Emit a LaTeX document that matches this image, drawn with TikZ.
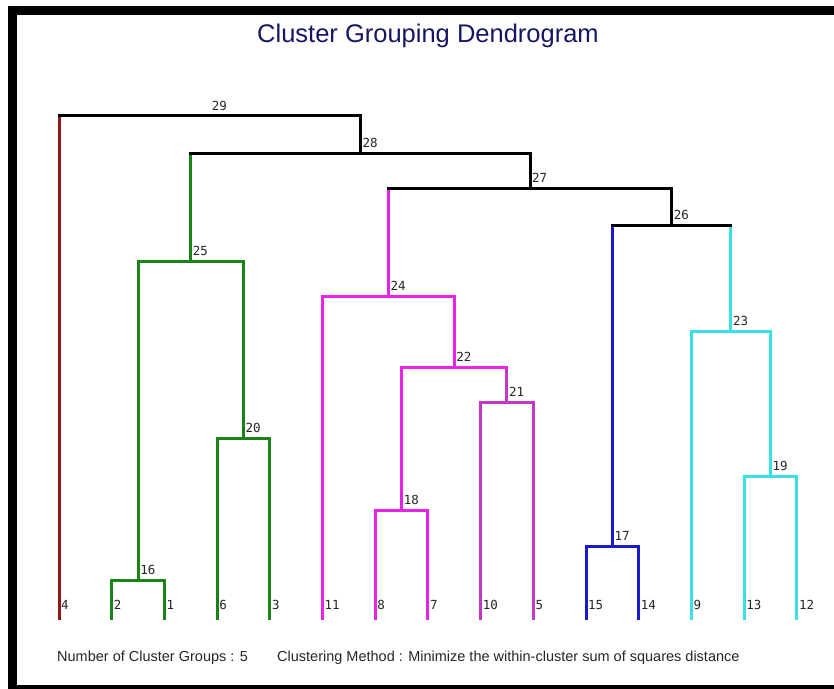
\documentclass[tikz,border=0pt]{standalone}
\usepackage{fontspec}
\setmainfont{Liberation Sans}
\newfontfamily\numfont{DejaVu Sans Mono}
\definecolor{darkred}{RGB}{140,25,25}
\definecolor{grn}{RGB}{25,130,25}
\definecolor{mag}{RGB}{230,35,230}
\definecolor{pur}{RGB}{195,55,205}
\definecolor{blu}{RGB}{25,25,205}
\definecolor{cyn}{RGB}{55,225,230}
\definecolor{navy}{RGB}{22,22,100}
\begin{document}
\begin{tikzpicture}[x=1bp, y=-1bp, every node/.style={inner sep=0},
    link/.style={line width=3bp, line cap=rect},
    numlbl/.style={font=\numfont\fontsize{12.5bp}{14bp}\selectfont, text=black!85},
    foot/.style={font=\fontsize{14.5bp}{17bp}\selectfont, text=black!85}]
      \useasboundingbox (0,0) rectangle (834,689);
      \fill[white] (0,0) rectangle (834,689);

      % Frame
      \fill[black] (8,6) rectangle (834,15);
      \fill[black] (8,6) rectangle (17,689);
      \fill[black] (8,685) rectangle (834,689);

      % Title
      \node[font=\fontsize{25.5bp}{30bp}\selectfont, text=navy, anchor=base] (ttl) at (428,43) {Cluster Grouping Dendrogram};

      % Leaves & labels
      \foreach \lf [count=\i] in {4,2,1,6,3,11,8,7,10,5,15,14,9,13,12} {
        \coordinate (l\lf) at ({59+52.7*(\i-1)}, 618);
        \node[numlbl, anchor=west] (t\lf) at ({61+52.7*(\i-1)}, 605) {\lf};
      }

      % Merges: number / left / right / height / bar, left and right colours
      \foreach \n/\a/\b/\y/\c/\ca/\cb in {
        16/l2/l1/580/grn/grn/grn,
        17/l15/l14/546/blu/blu/blu,
        18/l8/l7/510/mag/mag/mag,
        19/l13/l12/476/cyn/cyn/cyn,
        20/l6/l3/438/grn/grn/grn,
        21/l10/l5/402/pur/pur/pur,
        22/m18/m21/367/mag/mag/pur,
        23/l9/m19/331/cyn/cyn/cyn,
        24/l11/m22/296/mag/mag/mag,
        25/m16/m20/261/grn/grn/grn,
        26/m17/m23/225/black/blu/cyn,
        27/m24/m26/188/black/mag/black,
        28/m25/m27/153/black/grn/black,
        29/l4/m28/116/black/darkred/black} {
        \path (\a) -- (\b) coordinate[midway] (mid);
        \coordinate (m\n) at (mid |- 0,\y);
        \draw[link, \ca] (\a) -- (\a |- m\n);
        \draw[link, \cb] (\b) -- (\b |- m\n);
        \draw[link, \c] (\a |- m\n) -- (\b |- m\n);
        \node[numlbl, anchor=south west] (t\n) at ([shift={(2,-5)}]m\n) {\n};
      }

      % Footer
      \node[foot, anchor=base west] (ngrp) at (57,661) {Number of Cluster Groups : 5};
      \node[foot, anchor=base west] (meth) at (277,661) {Clustering Method : Minimize the within-cluster sum of squares distance};
    \end{tikzpicture}
\end{document}
